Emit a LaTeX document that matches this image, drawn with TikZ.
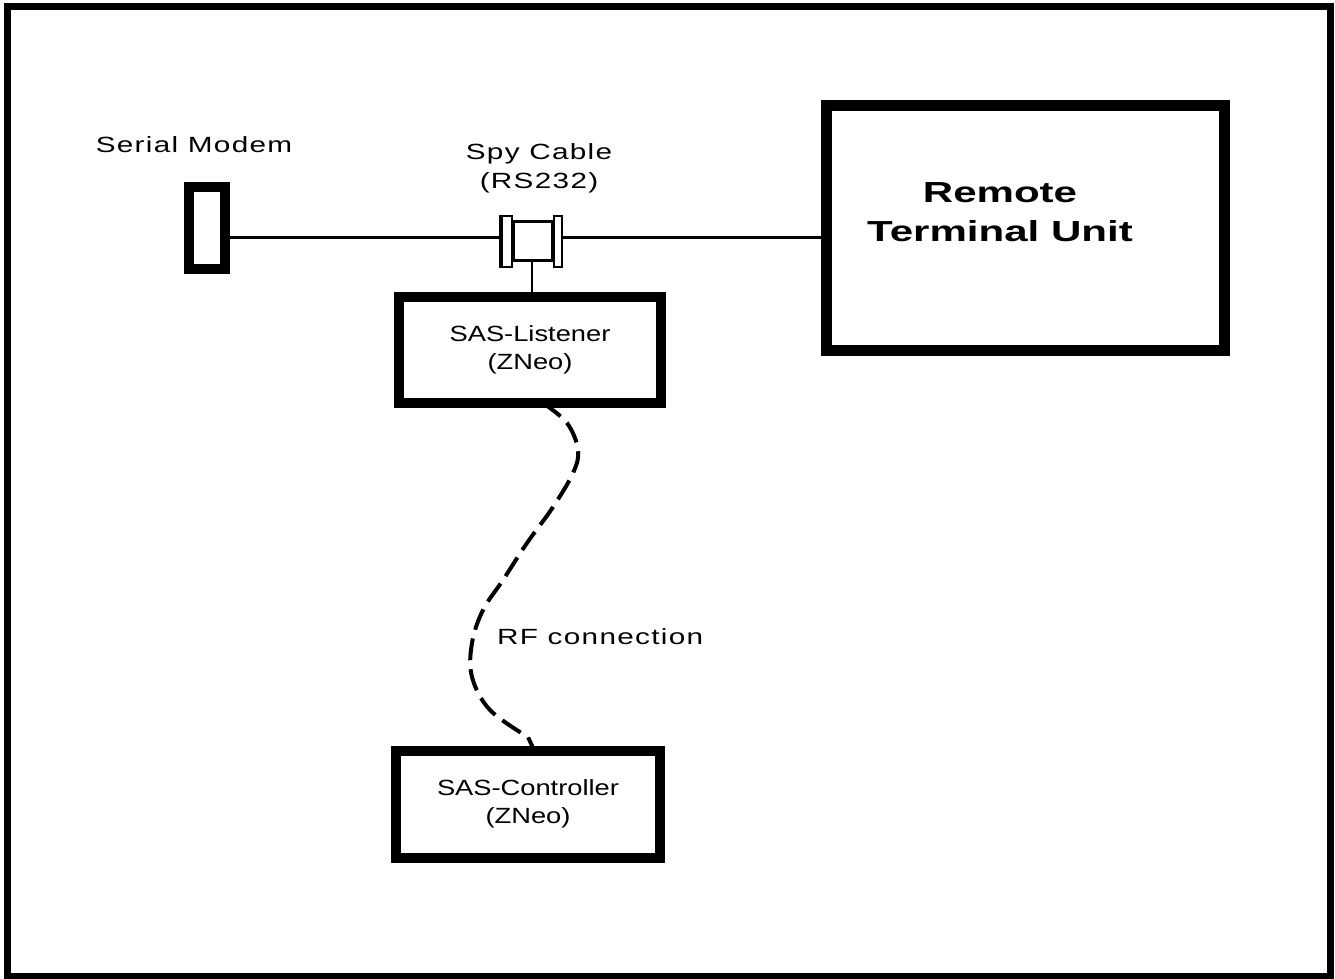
\documentclass[tikz,border=0pt]{standalone}
\usepackage{fontspec}
\setmainfont{Liberation Sans}
\newfontfamily\tagfont[FakeStretch=1.35,LetterSpace=6]{Liberation Sans}
\newfontfamily\boxfont[FakeStretch=1.24]{Liberation Sans}
\newfontfamily\unitfont[FakeStretch=1.45]{Liberation Sans}
\tikzset{
  unitbox/.style={draw, fill=white, line width=10, inner sep=0, align=center},
  tagtext/.style={font=\tagfont\fontsize{22}{29}\selectfont, align=center, inner sep=0},
  wire/.style={line width=3},
}
\begin{document}
\begin{tikzpicture}[x=1pt, y=-1pt]
    \useasboundingbox (0,0) rectangle (1335,978);

    % Outer frame
    \draw[line width=7] (7.5,6.5) rectangle (1330.5,976);

    % Serial modem (left)
    \node[unitbox, minimum width=36, minimum height=82.5] (modem) at (207,228) {};
    \node[tagtext] (modemtxt) at (194,145) {Serial Modem};

    % Spy cable: body and the two flanges
    \node[draw, fill=white, line width=3, minimum width=38.5, minimum height=39, inner sep=0] (spyb) at (533,241) {};
    \node[draw, fill=white, line width=2, minimum width=12, minimum height=51, inner sep=0] (spyl) at (506,241.5) {};
    \node[draw, fill=white, line width=2, minimum width=8, minimum height=51, inner sep=0] (spyr) at (558,241.5) {};
    \draw[line width=4] ([xshift=2]spyl.north west) -- ([xshift=2]spyl.south west);
    \node[tagtext] (spytxt) at (539,168.5) {Spy Cable\\(RS232)};

    % Remote terminal unit (right)
    \node[unitbox, line width=11, minimum width=398.5, minimum height=244.5] (rtu) at (1025.25,227.75) {};
    \node[font=\unitfont\bfseries\fontsize{29}{39}\selectfont, align=center, inner sep=0] (rtutxt) at (1000,212) {Remote\\Terminal Unit};

    % SAS boards
    \node[unitbox, minimum width=262, minimum height=106.5, font=\boxfont\fontsize{22}{28}\selectfont] (listener) at (530,349.75) {SAS-Listener\\(ZNeo)};
    \node[unitbox, minimum width=264, minimum height=107.5, font=\boxfont\fontsize{22}{28}\selectfont] (controller) at (528,804.25) {SAS-Controller\\(ZNeo)};

    % Cabling
    \coordinate (bus) at (0,237);
    \draw[wire] (modem.east |- bus) -- (spyl.west |- bus);
    \draw[wire] (spyr.east |- bus) -- (rtu.west |- bus);
    \draw[line width=2] (532,0 |- spyb.south) -- (532,0 |- listener.north);

    % RF link
    \draw[line width=4, dash pattern=on 22 off 9] (543,403) plot[smooth, tension=0.6] coordinates {(543,403) (567,423) (578,450) (573,473) (553,507) (527,543) (503,580) (483,610) (472,643) (472,677) (490,710) (528,737)} -- (534,750);
    \node[tagtext, anchor=west] (rftxt) at (497,637) {RF connection};
\end{tikzpicture}
\end{document}
